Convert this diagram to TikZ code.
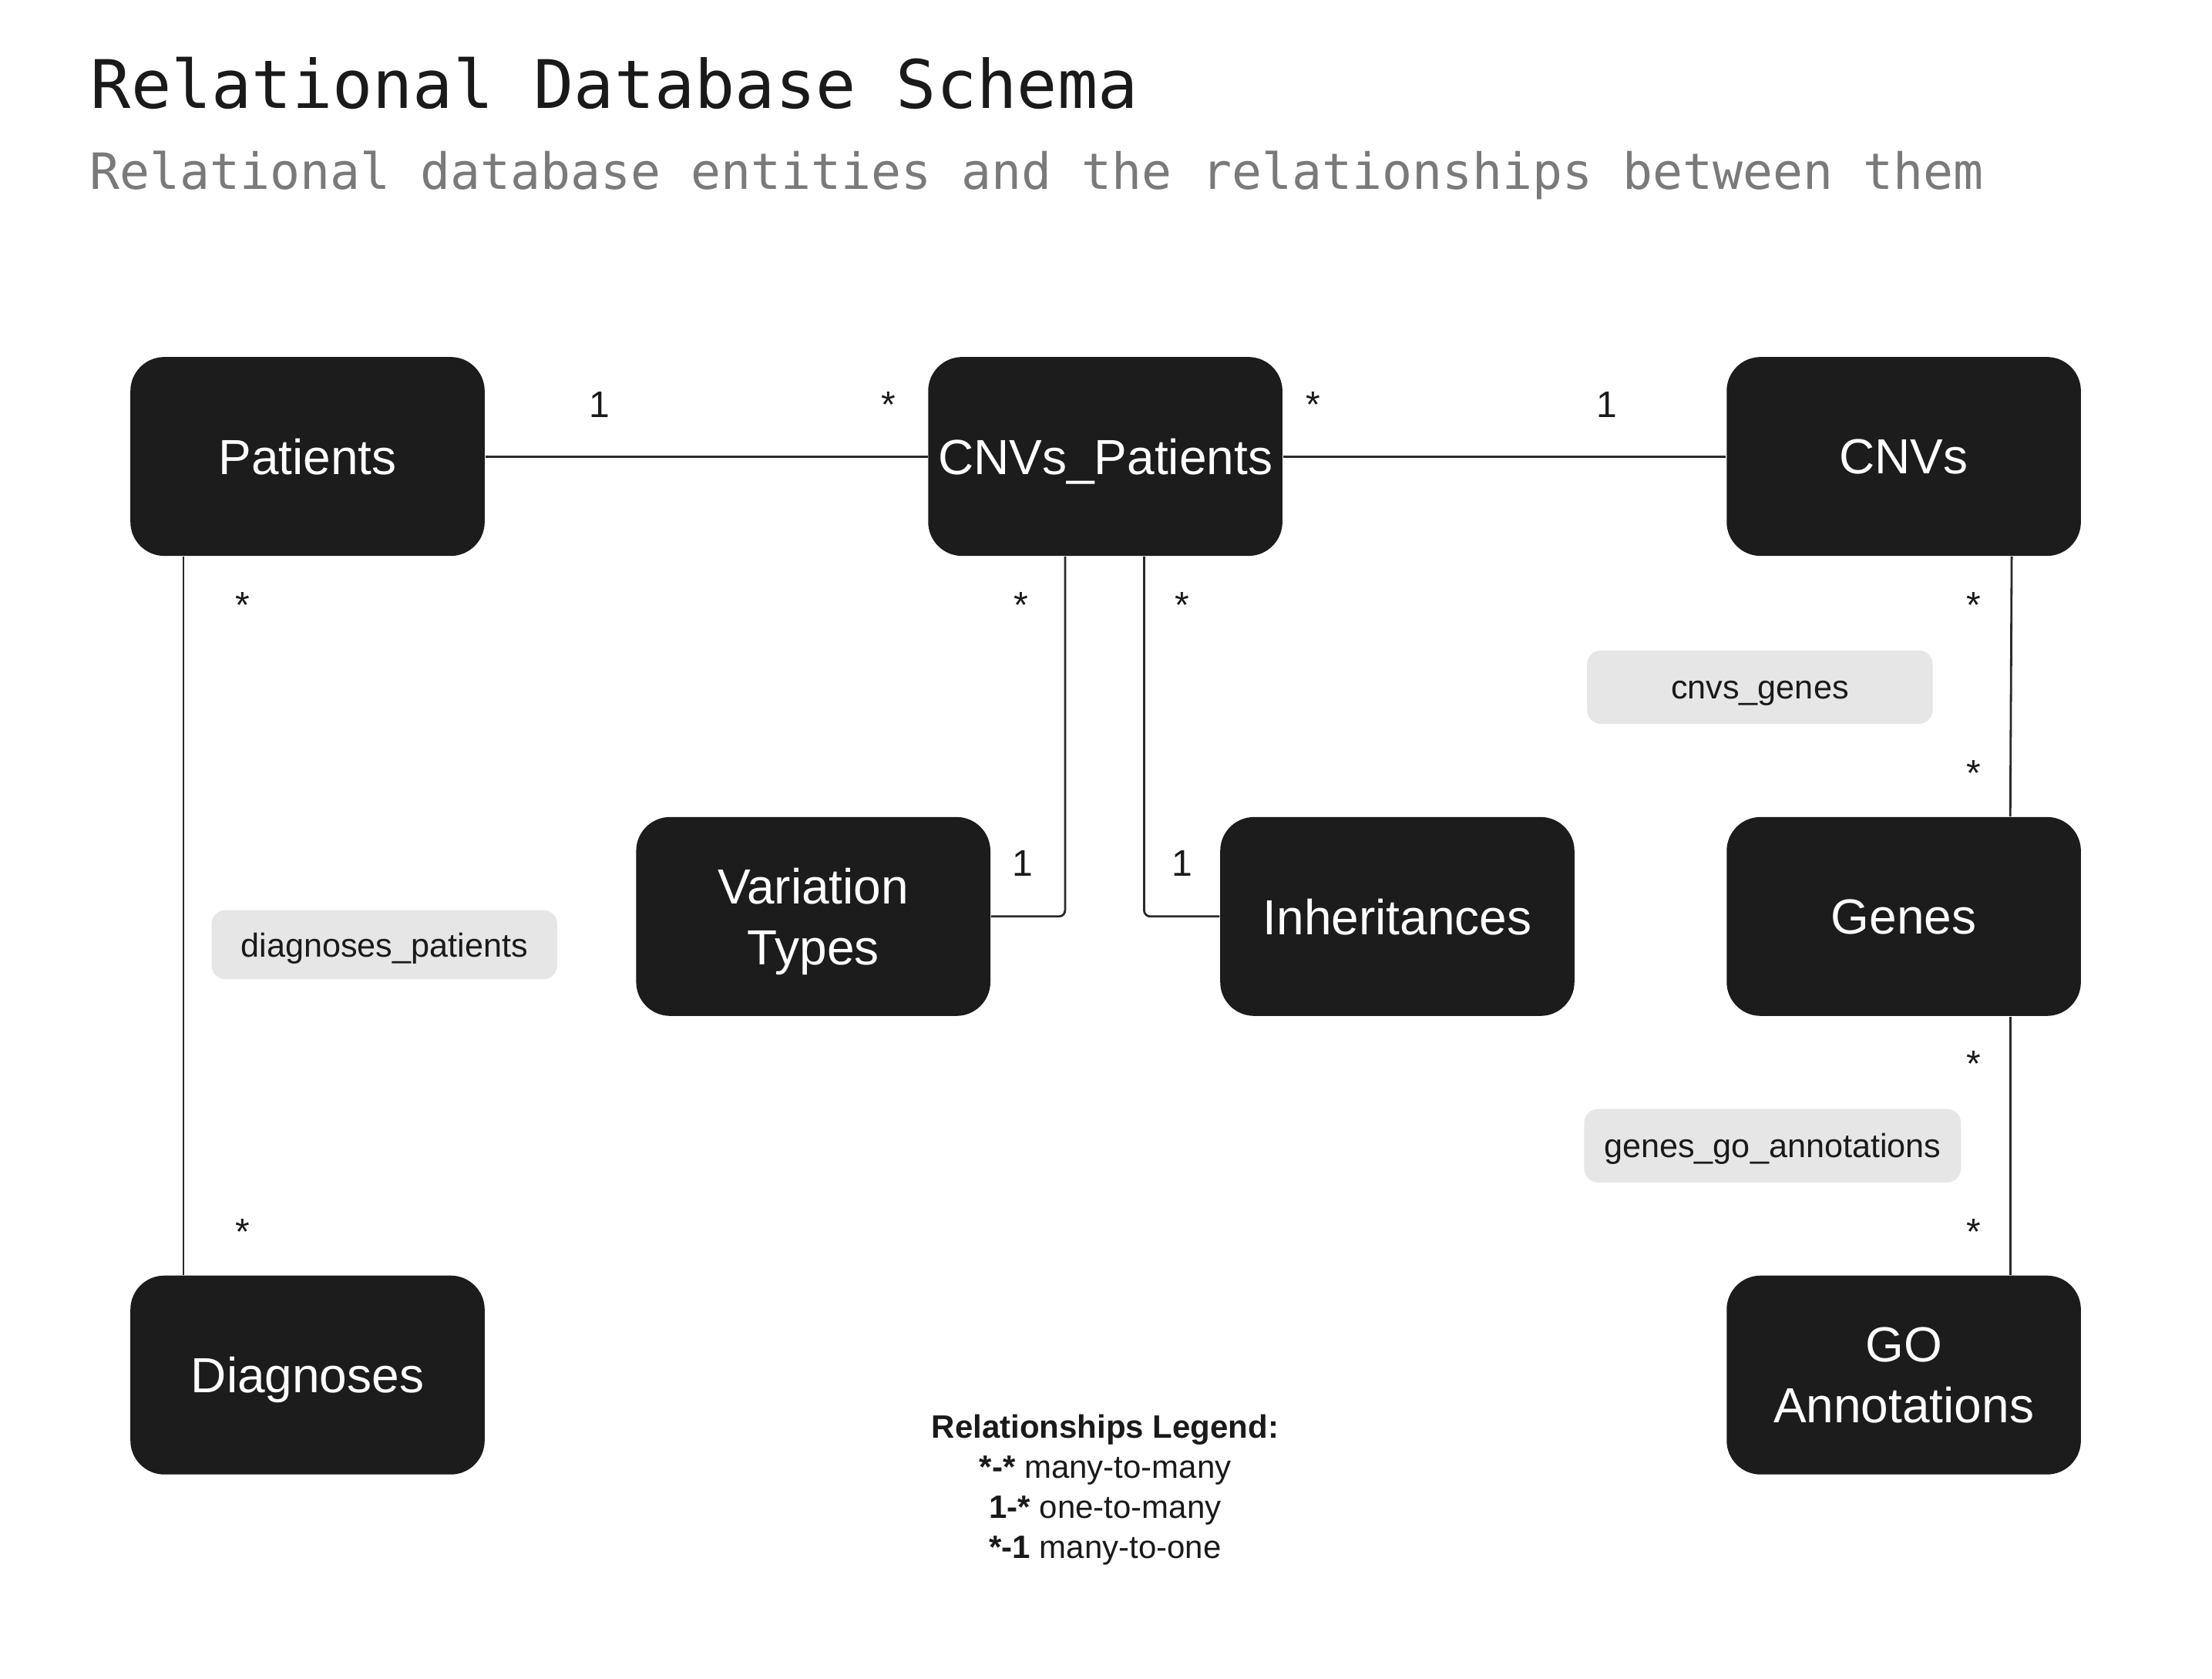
\documentclass[tikz,border=0pt]{standalone}
\usepackage{fontspec}
\setmainfont{Liberation Sans}
\newfontfamily\titlefont{DejaVu Sans Mono}
\usetikzlibrary{calc}
\definecolor{boxfill}{HTML}{1C1C1C}
\definecolor{tagfill}{HTML}{E6E6E6}
\definecolor{subgray}{HTML}{7A7A7A}
\definecolor{linecol}{HTML}{2A2A2A}
\definecolor{inkcol}{HTML}{1A1A1A}
\begin{document}
\begin{tikzpicture}[x=0.4576pt,y=-0.4576pt,
 entity/.style={fill=boxfill, rounded corners=11pt, minimum width=114.9pt, minimum height=64.5pt, inner sep=0pt, text=white, align=center, text depth=0pt, font=\fontsize{16}{19.7}\selectfont},
 tag/.style={fill=tagfill, rounded corners=4.5pt, inner sep=0pt, text height=7.8pt, text depth=0pt, font=\fontsize{10.8}{13}\selectfont, text=inkcol},
 card/.style={anchor=base, font=\fontsize{12}{14}\selectfont, text=inkcol, inner sep=0pt},
 link/.style={draw=linecol, line width=0.7pt},
 legendline/.style={anchor=base, font=\fontsize{10.5}{13}\selectfont, inner sep=0pt, text=inkcol}]
\useasboundingbox[fill=white] (0,0) rectangle (1568,1189.4);

% title
\node[anchor=base west, inner sep=0pt, font={\titlefont\fontsize{21.7}{26}\selectfont}, text=inkcol] (title) at (64,76.5) {Relational Database Schema};
\node[anchor=base west, inner sep=0pt, font={\titlefont\fontsize{16.2}{20}\selectfont}, text=subgray] (subtitle) at (63,134) {Relational database entities and the relationships between them};

% entities
\node[entity] (pat) at (218,323.5) {Patients};
\node[entity] (cp) at (783.5,323.5) {CNVs\_Patients};
\node[entity] (cnv) at (1349.5,323.5) {CNVs};
\node[entity] (vt) at (576.5,649.5) {Variation\\Types};
\node[entity] (inh) at (990.5,649.5) {Inheritances};
\node[entity] (genes) at (1349.5,649.5) {Genes};
\node[entity] (diag) at (218,974.5) {Diagnoses};
\node[entity] (go) at (1349.5,974.5) {GO\\Annotations};

% connectors
\draw[link] (pat.east) -- (cp.west);
\draw[link] (cp.east) -- (cnv.west);
\draw[link] ($(pat.south)+(-88,0)$) -- ($(diag.north)+(-88,0)$);
\draw[link, rounded corners=2pt] ($(cp.south)+(-28.5,0)$) |- (vt.east);
\draw[link, rounded corners=2pt] ($(cp.south)+(27.5,0)$) |- (inh.west);
\draw[link] ($(cnv.south)+(76.5,0)$) -- ($(genes.north)+(75.5,0)$);
\draw[link] ($(genes.south)+(75.5,0)$) -- ($(go.north)+(75.5,0)$);

% tags
\node[tag, minimum width=112.1pt, minimum height=22.4pt] (tagdp) at (272.5,669.5) {diagnoses\_patients};
\node[tag, minimum width=112.1pt, minimum height=23.8pt] (tagcg) at (1247.5,487) {cnvs\_genes};
\node[tag, minimum width=122.2pt, minimum height=23.8pt] (taggo) at (1256.5,812) {genes\_go\_annotations};

% cardinalities
\node[card] (c1) at (425,296) {1};
\node[card] (c2) at (630,296) {*};
\node[card] (c3) at (931,296) {*};
\node[card] (c4) at (1139,296) {1};
\node[card] (c5) at (172,438) {*};
\node[card] (c6) at (172,882) {*};
\node[card] (c7) at (724,438) {*};
\node[card] (c8) at (725,621) {1};
\node[card] (c9) at (838,438) {*};
\node[card] (c10) at (838,621) {1};
\node[card] (c11) at (1399,438) {*};
\node[card] (c12) at (1399,557) {*};
\node[card] (c13) at (1399,763) {*};
\node[card] (c14) at (1399,882) {*};

% legend
\node[legendline] (lg0) at (783.5,1019) {\textbf{Relationships Legend:}};
\node[legendline] (lg1) at (783.5,1047.5) {\textbf{*-*} many-to-many};
\node[legendline] (lg2) at (783.5,1076) {\textbf{1-*} one-to-many};
\node[legendline] (lg3) at (783.5,1104.5) {\textbf{*-1} many-to-one};
\end{tikzpicture}
\end{document}
